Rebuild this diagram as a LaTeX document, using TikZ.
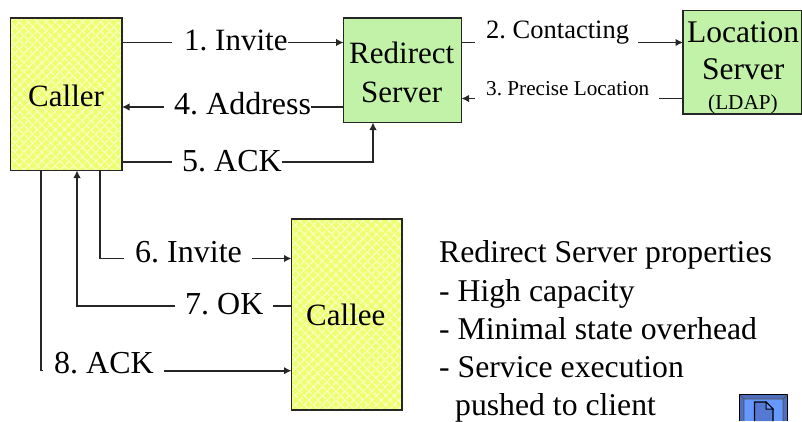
\documentclass[tikz,border=0pt]{standalone}
\usepackage{fontspec}
\setmainfont{Liberation Serif}
\frenchspacing
\usetikzlibrary{arrows.meta,patterns.meta}
\definecolor{boxyellow}{HTML}{EDFF6E}
\definecolor{boxgreen}{HTML}{C1F2A8}
\definecolor{hatch}{HTML}{F9FFC8}
\tikzset{
  x=1pt,y=-1pt,
  box/.style={draw=black!85,line width=1.3pt,inner sep=0pt,outer sep=0pt,anchor=north west},
  yellowbox/.style={box,preaction={fill=boxyellow},
    postaction={pattern={Lines[angle=45,distance=6.5pt,line width=1.5pt]},pattern color=hatch},
    postaction={pattern={Lines[angle=-45,distance=6.5pt,line width=1.5pt]},pattern color=hatch},
    postaction={draw=black!85,line width=1.3pt}},
  greenbox/.style={box,fill=boxgreen},
  txt/.style={anchor=base west,inner sep=0pt,font=\fontsize{31}{31}\selectfont},
  conn/.style={anchor=base west,inner sep=0pt,font=\fontsize{32}{32}\selectfont},
  loc/.style={anchor=base west,inner sep=0pt,font=\fontsize{31.5}{31.5}\selectfont},
  prop/.style={anchor=base west,inner sep=0pt,font=\fontsize{31.7}{31.7}\selectfont},
  mid/.style={anchor=base west,inner sep=0pt,font=\fontsize{26.5}{26.5}\selectfont},
  small/.style={anchor=base west,inner sep=0pt,font=\fontsize{21.2}{21.2}\selectfont},
  link/.style={line width=1.3pt,black!85},
  arrow/.style={link,-{Latex[length=7.5pt,width=7.5pt]}},
  heavy/.style={line width=1.7pt},
}
\begin{document}
\begin{tikzpicture}
\useasboundingbox (0,0) rectangle (802,421);
% boxes
\node[yellowbox,minimum width=111.5pt,minimum height=152.5pt] (caller) at (10.5,18) {};
\node[greenbox,minimum width=118pt,minimum height=104.5pt] (redirect) at (343.5,18) {};
\node[greenbox,minimum width=118.5pt,minimum height=103.5pt] (location) at (683,10.5) {};
\node[yellowbox,minimum width=110.5pt,minimum height=191pt] (callee) at (291.5,219) {};
% box texts
\node[txt] (tcaller) at (28,106) {Caller};
\node[txt] (tredirect) at (349,63) {Redirect};
\node[txt] (tserver) at (361,102) {Server};
\node[loc] (tlocation) at (687,42) {Location};
\node[loc] (tlserver) at (702,79.5) {Server};
\node[small] (tldap) at (708,109) {(LDAP)};
\node[txt] (tcallee) at (306,325) {Callee};
% connector labels
\node[txt] (l1) at (184,50) {1. Invite};
\node[conn] (l4) at (174,114) {4. Address};
\node[conn] (l5) at (182,171) {5. ACK};
\node[mid] (l2) at (486,38) {2. Contacting};
\node[small] (l3) at (486,95) {3. Precise Location};
\node[conn] (l6) at (135,262) {6. Invite};
\node[conn] (l7) at (185,314) {7. OK};
\node[conn] (l8) at (54,373) {8. ACK};
% ports and connector waypoints
\coordinate (p1a) at (caller.east |- 0,42.5);
\coordinate (p1b) at (redirect.west |- 0,42.5);
\coordinate (p4a) at (redirect.west |- 0,107);
\coordinate (p4b) at (caller.east |- 0,107);
\coordinate (p5a) at (caller.east |- 0,162);
\coordinate (p5c) at (373,162);
\coordinate (p5b) at (373,122.5);
\coordinate (p2a) at (redirect.east |- 0,42.5);
\coordinate (p2b) at (location.west |- 0,42.5);
\coordinate (p3a) at (location.west |- 0,98.5);
\coordinate (p3b) at (redirect.east |- 0,98.5);
\coordinate (p6a) at (100,170.5);
\coordinate (p6c) at (100,258.5);
\coordinate (p6b) at (callee.west |- 0,258.5);
\coordinate (p7a) at (callee.west |- 0,306);
\coordinate (p7c) at (77,306);
\coordinate (p7b) at (77,170.5);
\coordinate (p8a) at (41,170.5);
\coordinate (p8c) at (41,370.7);
\coordinate (p8b) at (callee.west |- 0,370.7);
% connectors: each runs box -> label, label -> box
\draw[link] (p1a) -- ([xshift=-12pt]l1.west |- p1a);
\draw[arrow] (l1.east |- p1b) -- (p1b);
\draw[link] (p4a) -- (l4.east |- p4a);
\draw[arrow] ([xshift=-10pt]l4.west |- p4b) -- (p4b);
\draw[link] (p5a) -- ([xshift=-10pt]l5.west |- p5a);
\draw[arrow] (l5.east |- p5c) -- (p5c) -- (p5b);
\draw[link] (p2a) -- ([xshift=-11pt]l2.west |- p2a);
\draw[arrow] ([xshift=9pt]l2.east |- p2b) -- (p2b);
\draw[link,heavy] (p3a) -- ([xshift=10pt]l3.east |- p3a);
\draw[arrow] ([xshift=-11pt]l3.west |- p3b) -- (p3b);
\draw[link] (p6a) -- (p6c) -- ([xshift=-11pt]l6.west |- p6c);
\draw[arrow,heavy] ([xshift=10pt]l6.east |- p6b) -- (p6b);
\draw[link] (p7a) -- ([xshift=9pt]l7.east |- p7a);
\draw[arrow] ([xshift=-10pt]l7.west |- p7c) -- (p7c) -- (p7b);
\draw[link] (p8a) -- (p8c) -- ++(2,0);
\draw[arrow,heavy] ([xshift=10pt]l8.east |- p8b) -- (p8b);
% properties text
\node[prop] (r1) at (439,262) {Redirect Server properties};
\node[prop] (r2) at (439,301) {- High capacity};
\node[prop] (r3) at (439,339) {- Minimal state overhead};
\node[prop] (r4) at (439,377) {- Service execution};
\node[prop] (r5) at (455,415) {pushed to client};
% icon, cut by the lower edge of the picture
\fill[fill={rgb,255:red,80;green,110;blue,190}] (739,394) rectangle (788,421);
\fill[fill={rgb,255:red,102;green,153;blue,255}] (744,399) rectangle (783,421);
\draw[black,line width=1.2pt] (739.5,421) -- (739.5,394.5) -- (787.5,394.5) -- (787.5,421);
\draw[black!70,line width=.7pt] (739.5,394.5) -- (744,399) -- (783,399) -- (787.5,394.5) (744,399) -- (744,421) (783,399) -- (783,421);
\filldraw[draw=black,line width=1.2pt,fill={rgb,255:red,85;green,120;blue,210}] (754.5,421) -- (754.5,402) -- (766,402) -- (773,409) -- (773,421);
\filldraw[draw=black,line width=1pt,fill={rgb,255:red,102;green,153;blue,255}] (766,402) -- (766,409) -- (773,409) -- cycle;
\end{tikzpicture}
\end{document}
